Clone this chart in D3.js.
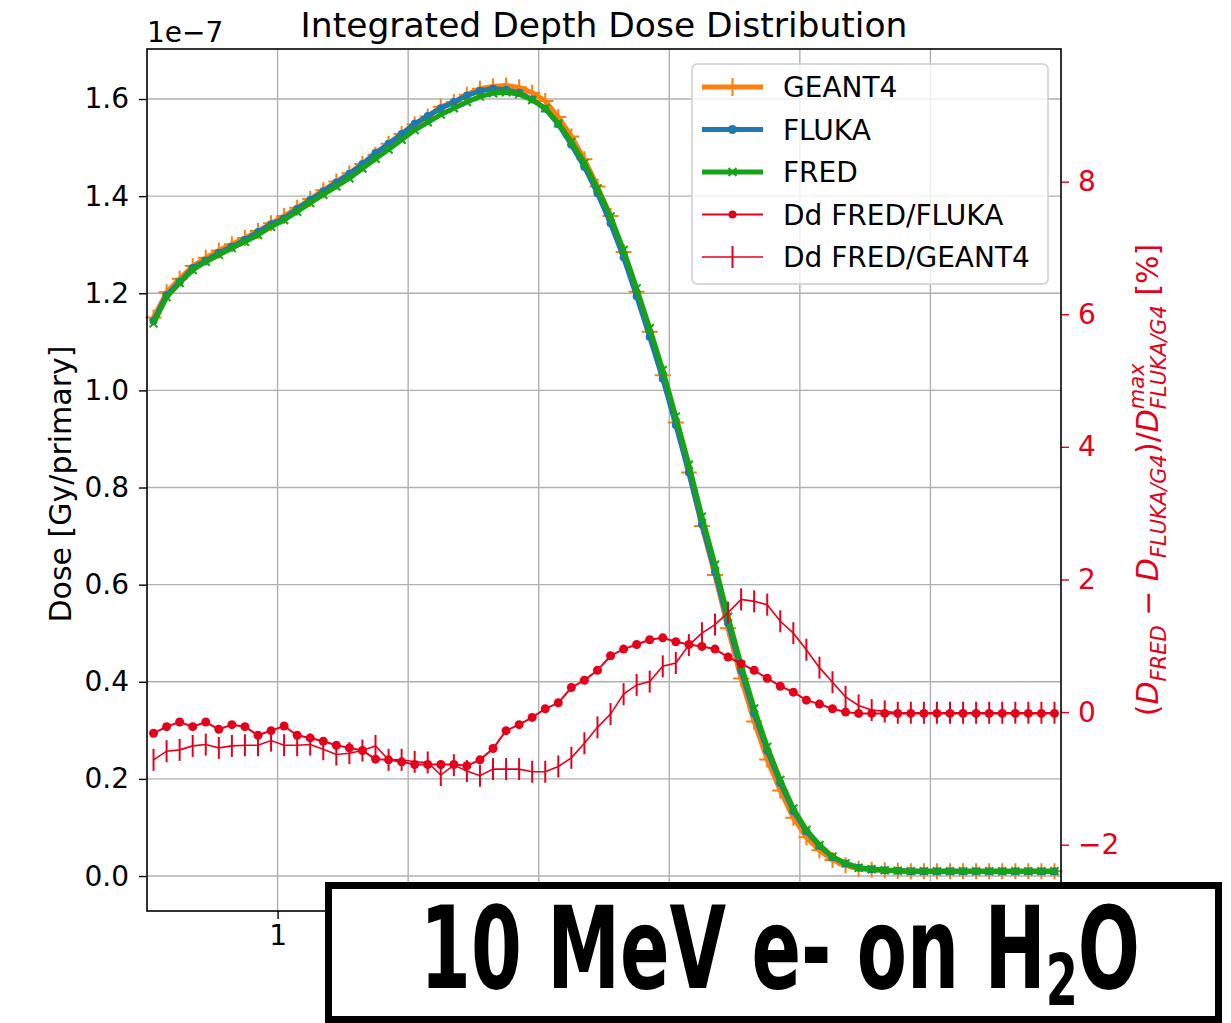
<!DOCTYPE html>
<html>
<head>
<meta charset="utf-8">
<script src="https://cdn.jsdelivr.net/npm/d3@7"></script>
<style>
  body { margin: 0; background: #fff; }
  text { font-family: "DejaVu Sans", sans-serif; }
</style>
</head>
<body>
<div class="chart"></div>
<script>
// depth bins (cm)
var depth = [0.05, 0.15, 0.25, 0.35, 0.45, 0.55, 0.65, 0.75, 0.85, 0.95,
  1.05, 1.15, 1.25, 1.35, 1.45, 1.55, 1.65, 1.75, 1.85, 1.95,
  2.05, 2.15, 2.25, 2.35, 2.45, 2.55, 2.65, 2.75, 2.85, 2.95,
  3.05, 3.15, 3.25, 3.35, 3.45, 3.55, 3.65, 3.75, 3.85, 3.95,
  4.05, 4.15, 4.25, 4.35, 4.45, 4.55, 4.65, 4.75, 4.85, 4.95,
  5.05, 5.15, 5.25, 5.35, 5.45, 5.55, 5.65, 5.75, 5.85, 5.95,
  6.05, 6.15, 6.25, 6.35, 6.45, 6.55, 6.65, 6.75, 6.85, 6.95];

// dose, in units of 1e-7 Gy/primary
var geant4 = [1.150, 1.202, 1.230, 1.256, 1.273, 1.288, 1.301, 1.314, 1.328, 1.344,
  1.359, 1.376, 1.394, 1.412, 1.430, 1.447, 1.466, 1.485, 1.508, 1.528,
  1.548, 1.564, 1.584, 1.594, 1.609, 1.621, 1.626, 1.628, 1.624, 1.613,
  1.596, 1.563, 1.523, 1.476, 1.420, 1.359, 1.285, 1.203, 1.121, 1.031,
  0.934, 0.831, 0.721, 0.620, 0.510, 0.407, 0.318, 0.240, 0.176, 0.120,
  0.080, 0.053, 0.033, 0.022, 0.015, 0.013, 0.012, 0.011, 0.010, 0.010,
  0.010, 0.010, 0.010, 0.010, 0.010, 0.010, 0.010, 0.010, 0.010, 0.010];

var fluka = [1.143, 1.196, 1.223, 1.252, 1.267, 1.283, 1.296, 1.310, 1.326, 1.342,
  1.354, 1.374, 1.392, 1.410, 1.428, 1.446, 1.466, 1.489, 1.508, 1.528,
  1.549, 1.565, 1.581, 1.594, 1.607, 1.617, 1.621, 1.619, 1.613, 1.599,
  1.580, 1.548, 1.506, 1.460, 1.406, 1.344, 1.274, 1.194, 1.110, 1.024,
  0.929, 0.831, 0.724, 0.626, 0.521, 0.423, 0.335, 0.258, 0.192, 0.134,
  0.092, 0.062, 0.039, 0.026, 0.017, 0.014, 0.012, 0.011, 0.010, 0.010,
  0.010, 0.010, 0.010, 0.010, 0.010, 0.010, 0.010, 0.010, 0.010, 0.010];

var fred = [1.138, 1.192, 1.221, 1.248, 1.265, 1.279, 1.293, 1.306, 1.320, 1.337,
  1.351, 1.368, 1.386, 1.403, 1.420, 1.437, 1.457, 1.477, 1.496, 1.516,
  1.536, 1.552, 1.568, 1.581, 1.594, 1.605, 1.612, 1.614, 1.610, 1.598,
  1.581, 1.550, 1.512, 1.468, 1.416, 1.358, 1.289, 1.210, 1.128, 1.042,
  0.946, 0.847, 0.740, 0.641, 0.534, 0.435, 0.345, 0.266, 0.198, 0.139,
  0.095, 0.064, 0.040, 0.026, 0.017, 0.014, 0.012, 0.011, 0.010, 0.010,
  0.010, 0.010, 0.010, 0.010, 0.010, 0.010, 0.010, 0.010, 0.010, 0.010];

// dose differences in % (right axis)
var ddFluka = [-0.32, -0.22, -0.15, -0.22, -0.15, -0.26, -0.19, -0.22, -0.35, -0.28,
  -0.21, -0.35, -0.39, -0.44, -0.50, -0.54, -0.58, -0.71, -0.72, -0.75,
  -0.79, -0.79, -0.79, -0.79, -0.81, -0.72, -0.55, -0.28, -0.19, -0.08,
  0.05, 0.14, 0.37, 0.48, 0.63, 0.85, 0.95, 1.02, 1.09, 1.12,
  1.06, 1.02, 0.99, 0.95, 0.83, 0.73, 0.63, 0.51, 0.39, 0.30,
  0.18, 0.12, 0.05, 0.00, -0.02, -0.02, -0.02, -0.02, -0.02, -0.02,
  -0.02, -0.02, -0.02, -0.02, -0.02, -0.02, -0.02, -0.02, -0.02, -0.02];

var ddGeant4 = [-0.72, -0.59, -0.57, -0.51, -0.49, -0.54, -0.51, -0.50, -0.50, -0.43,
  -0.50, -0.50, -0.49, -0.56, -0.64, -0.62, -0.58, -0.51, -0.72, -0.72,
  -0.75, -0.76, -0.95, -0.80, -0.89, -0.96, -0.86, -0.86, -0.86, -0.90,
  -0.90, -0.82, -0.69, -0.47, -0.23, -0.03, 0.27, 0.41, 0.46, 0.69,
  0.74, 1.01, 1.19, 1.32, 1.50, 1.70, 1.67, 1.62, 1.37, 1.19,
  0.94, 0.67, 0.45, 0.23, 0.10, 0.03, 0.01, -0.01, -0.01, -0.01,
  -0.01, -0.01, -0.01, -0.01, -0.01, -0.01, -0.01, -0.01, -0.01, -0.01];

var depthTicks = [1, 2, 3, 4, 5, 6];
var depthTickLabels = ['1', '', '', '', '', ''];   // 2..6 sit under the annotation box
var doseTicks = [0.0, 0.2, 0.4, 0.6, 0.8, 1.0, 1.2, 1.4, 1.6];
var diffTicks = [-2, 0, 2, 4, 6, 8];
var legendLabels = ['GEANT4', 'FLUKA', 'FRED', 'Dd FRED/FLUKA', 'Dd FRED/GEANT4'];

var RED = '#e5001b';
var GRID = '#b0b0b0';

var margin = { top: 49, right: 170, bottom: 112, left: 147 };
var width = 1231 - margin.left - margin.right;
var height = 1023 - margin.top - margin.bottom;

var svg = d3.select('.chart')
  .append('svg')
  .attr('width', 1231)
  .attr('height', 1023);

svg.append('rect').attr('width', 1231).attr('height', 1023).attr('fill', '#fff');

var g = svg.append('g')
  .attr('transform', `translate(${margin.left}, ${margin.top})`);

var xScale = d3.scaleLinear().domain([0, 7]).range([0, width]);
var yScale = d3.scaleLinear().domain([-0.072, 1.703]).range([height, 0]);
var y2Scale = d3.scaleLinear().domain([-3, 10]).range([height, 0]);

// grid
g.selectAll('.vgrid')
  .data(depthTicks)
  .enter()
  .append('line')
  .attr('x1', d => xScale(d)).attr('x2', d => xScale(d))
  .attr('y1', 0).attr('y2', height)
  .style('stroke', GRID).style('stroke-width', 1.4);

g.selectAll('.hgrid')
  .data(doseTicks)
  .enter()
  .append('line')
  .attr('x1', 0).attr('x2', width)
  .attr('y1', d => yScale(d)).attr('y2', d => yScale(d))
  .style('stroke', GRID).style('stroke-width', 1.4);

function pts(arr) {
  return depth.map((d, i) => ({ x: d, y: arr[i] }));
}

var line = d3.line().x(d => xScale(d.x)).y(d => yScale(d.y));
var line2 = d3.line().x(d => xScale(d.x)).y(d => y2Scale(d.y));

var markers = {
  plus: 'M-8,0H8M0,-8V8',
  cross: 'M-4,-4L4,4M-4,4L4,-4',
  vbar: 'M0,-11V11'
};

function drawMarkers(sel, data, yS, kind, color) {
  var m = sel.append('g');
  if (kind === 'dot' || kind === 'smalldot') {
    m.selectAll('circle')
      .data(data)
      .enter()
      .append('circle')
      .attr('cx', d => xScale(d.x))
      .attr('cy', d => yS(d.y))
      .attr('r', kind === 'dot' ? 4 : 4.5)
      .style('fill', color);
  } else {
    m.selectAll('path')
      .data(data)
      .enter()
      .append('path')
      .attr('transform', d => `translate(${xScale(d.x)}, ${yS(d.y)})`)
      .attr('d', markers[kind])
      .style('stroke', color)
      .style('stroke-width', 2)
      .style('fill', 'none');
  }
}

var doseSeries = [
  { data: geant4, color: '#ff7f0e', marker: 'plus' },
  { data: fluka, color: '#1f77b4', marker: 'dot' },
  { data: fred, color: '#17a317', marker: 'cross' }
];

doseSeries.forEach(s => {
  g.append('path')
    .attr('d', line(pts(s.data)))
    .style('stroke', s.color)
    .style('stroke-width', 5)
    .style('fill', 'none')
    .style('stroke-linejoin', 'round');
  drawMarkers(g, pts(s.data), yScale, s.marker, s.color);
});

// twin axis series
var diffSeries = [
  { data: ddFluka, marker: 'smalldot', width: 2 },
  { data: ddGeant4, marker: 'vbar', width: 1.6 }
];

diffSeries.forEach(s => {
  g.append('path')
    .attr('d', line2(pts(s.data)))
    .style('stroke', RED)
    .style('stroke-width', s.width)
    .style('fill', 'none');
  drawMarkers(g, pts(s.data), y2Scale, s.marker, RED);
});

// axes
function styleAxis(sel, color) {
  sel.select('.domain').remove();
  sel.selectAll('.tick line').style('stroke', color).style('stroke-width', 1.4);
  sel.selectAll('.tick text')
    .style('fill', color)
    .style('font-size', '28px')
    .style('font-family', '"DejaVu Sans", sans-serif');
}

g.append('g')
  .call(d3.axisLeft(yScale).tickValues(doseTicks).tickFormat(d3.format('.1f')).tickSize(8).tickPadding(10))
  .call(styleAxis, '#000');

g.append('g')
  .attr('transform', `translate(0, ${height})`)
  .call(d3.axisBottom(xScale).tickValues(depthTicks).tickFormat((d, i) => depthTickLabels[i]).tickSize(8).tickPadding(6))
  .call(styleAxis, '#000');

g.append('g')
  .attr('transform', `translate(${width}, 0)`)
  .call(d3.axisRight(y2Scale).tickValues(diffTicks).tickFormat(d => d < 0 ? '\u2212' + Math.abs(d) : d).tickSize(8).tickPadding(9))
  .call(styleAxis, RED);

// spines
g.append('rect')
  .attr('width', width)
  .attr('height', height)
  .style('fill', 'none')
  .style('stroke', '#000')
  .style('stroke-width', 1.6);

// title, offset, axis labels
svg.append('text')
  .attr('x', margin.left + width / 2)
  .attr('y', 37)
  .attr('text-anchor', 'middle')
  .style('font-size', '34.5px')
  .text('Integrated Depth Dose Distribution');

svg.append('text')
  .attr('x', margin.left)
  .attr('y', 42)
  .style('font-size', '28px')
  .text('1e\u22127');

svg.append('text')
  .attr('transform', `translate(71, ${margin.top + height / 2 + 4}) rotate(-90)`)
  .attr('text-anchor', 'middle')
  .style('font-size', '30px')
  .text('Dose [Gy/primary]');

// right label built piece by piece (mathtext-like)
var labelParts = [
  { t: '(', size: 30 },
  { t: 'D', size: 30, it: true },
  { t: 'FRED', size: 21, it: true, dy: 8 },
  { t: ' \u2212 ', size: 30 },
  { t: 'D', size: 30, it: true },
  { t: 'FLUKA/G4', size: 21, it: true, dy: 8 },
  { t: ')/', size: 30 },
  { t: 'D', size: 30, it: true },
  { t: 'max', size: 21, it: true, dy: -14 },
  { t: 'FLUKA/G4', size: 21, it: true, dy: 8, stack: true },
  { t: ' [%]', size: 30 }
];

var rl = svg.append('g').attr('transform', `translate(1158, ${margin.top + height / 2}) rotate(-90)`);
var rlInner = rl.append('g');
var cx = 0, stackStart = 0, prevW = 0;
labelParts.forEach(p => {
  var x0 = p.stack ? stackStart : cx;
  var el = rlInner.append('text')
    .attr('x', x0)
    .attr('y', p.dy || 0)
    .style('font-size', p.size + 'px')
    .style('font-style', p.it ? 'italic' : 'normal')
    .style('fill', RED)
    .style('white-space', 'pre')
    .text(p.t);
  var w = el.node().getComputedTextLength();
  if (p.stack) {
    cx = stackStart + Math.max(prevW, w);
  } else {
    stackStart = cx;
    cx += w;
  }
  prevW = w;
});
rlInner.attr('transform', `translate(${-cx / 2}, 0)`);

// legend
var lg = svg.append('g');
lg.append('rect')
  .attr('x', 692).attr('y', 64)
  .attr('width', 356).attr('height', 220)
  .attr('rx', 5)
  .style('fill', '#fff').style('fill-opacity', 0.8)
  .style('stroke', '#cccccc').style('stroke-width', 1.4);

var legendItems = [
  { color: '#ff7f0e', marker: 'plus', width: 5 },
  { color: '#1f77b4', marker: 'dot', width: 5 },
  { color: '#17a317', marker: 'cross', width: 5 },
  { color: RED, marker: 'smalldot', width: 2 },
  { color: RED, marker: 'vbar', width: 1.6 }
];

legendItems.forEach((it, i) => {
  var yy = 87 + i * 42.5;
  lg.append('line')
    .attr('x1', 702).attr('x2', 763)
    .attr('y1', yy).attr('y2', yy)
    .style('stroke', it.color).style('stroke-width', it.width);
  if (it.marker === 'dot' || it.marker === 'smalldot') {
    lg.append('circle').attr('cx', 732.5).attr('cy', yy)
      .attr('r', it.marker === 'dot' ? 4.5 : 4).style('fill', it.color);
  } else {
    lg.append('path')
      .attr('transform', `translate(732.5, ${yy})`)
      .attr('d', it.marker === 'plus' ? 'M-9,0H9M0,-9V9' : markers[it.marker])
      .style('stroke', it.color).style('stroke-width', 2).style('fill', 'none');
  }
  lg.append('text')
    .attr('x', 783).attr('y', yy)
    .attr('dy', '0.36em')
    .style('font-size', '28px')
    .text(legendLabels[i]);
});

// annotation box
svg.append('rect')
  .attr('x', 328.5).attr('y', 885.5)
  .attr('width', 890).attr('height', 134)
  .style('fill', '#fff')
  .style('stroke', '#000')
  .style('stroke-width', 7);

// condensed look: squeeze the bold text horizontally to the box's text width
var bg = svg.append('g');
var bt = bg.append('text')
  .attr('x', 0).attr('y', 0)
  .attr('text-anchor', 'middle')
  .style('font-size', '114px')
  .style('font-weight', 'bold');
bt.append('tspan').text('10 MeV e- on H');
bt.append('tspan').attr('dy', 17).style('font-size', '72px').text('2');
bt.append('tspan').attr('dy', -17).text('O');
var natural = bt.node().getComputedTextLength();
bg.attr('transform', `translate(780, 988) scale(${720 / natural}, 1)`);
</script>
</body>
</html>
